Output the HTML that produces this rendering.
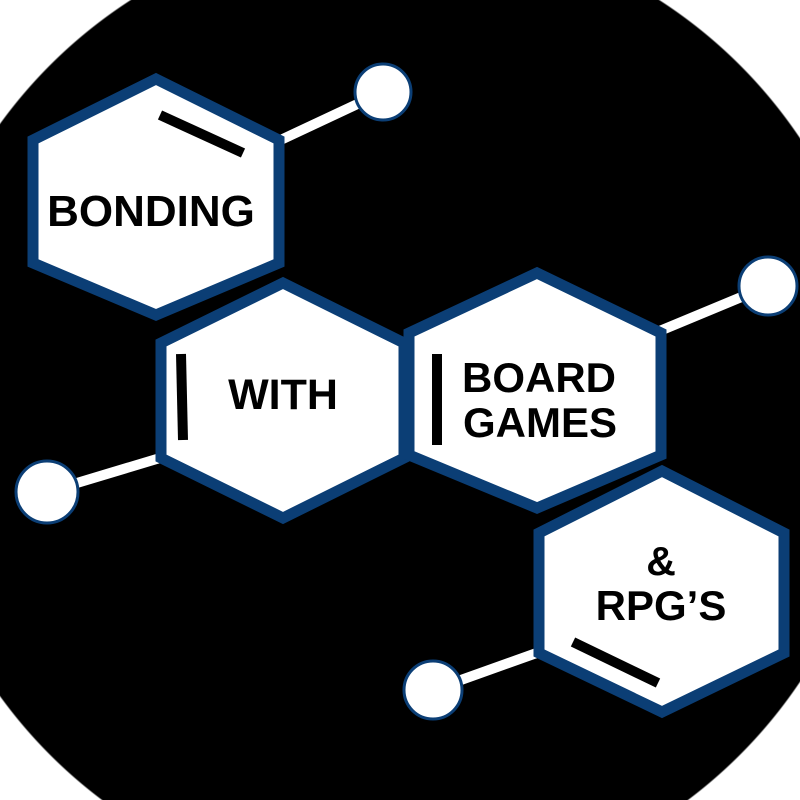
<!DOCTYPE html>
<html><head><style>
html,body{margin:0;padding:0;width:800px;height:800px;overflow:hidden;}
body{background:radial-gradient(circle 488px at 395px 410px,#000 487px,#fff 488.5px);}
svg{display:block;}
text{font-family:"Liberation Sans",sans-serif;font-weight:bold;fill:#000;}
</style></head><body>
<svg width="800" height="800" viewBox="0 0 800 800">
<g stroke="#fff" stroke-width="10">
<line x1="270" y1="145" x2="383" y2="92"/>
<line x1="650" y1="335" x2="768" y2="286"/>
<line x1="170" y1="455" x2="47" y2="492"/>
<line x1="545" y1="650" x2="433" y2="690"/>
</g>
<g fill="#fff" stroke="#0b3e75" stroke-width="3">
<circle cx="383" cy="92" r="28"/>
<circle cx="768" cy="286" r="29"/>
<circle cx="47" cy="492" r="31"/>
<circle cx="433" cy="690" r="29"/>
</g>
<g fill="#fff" stroke="#0b3e75" stroke-width="11" stroke-linejoin="miter">
<polygon points="156,79 279,140 279,263 156,315 33,263 33,140"/>
<polygon points="283,283 404,343 404,458 283,518 161,458 161,343"/>
<polygon points="537,273 661,333 661,455 537,508 409,455 409,333"/>
<polygon points="662,471 784,533 784,653 662,712 539,653 539,533"/>
</g>
<g stroke="#000" stroke-width="10">
<line x1="160" y1="115" x2="243" y2="153"/>
<line x1="181" y1="354" x2="183" y2="440"/>
<line x1="437" y1="354" x2="437" y2="445"/>
<line x1="573" y1="642" x2="658" y2="683"/>
</g>
<text x="151" y="226" font-size="44" text-anchor="middle">BONDING</text>
<text x="283" y="409" font-size="43" text-anchor="middle">WITH</text>
<text x="539" y="392" font-size="42" text-anchor="middle">BOARD</text>
<text x="540" y="437" font-size="42" text-anchor="middle">GAMES</text>
<text x="661" y="575" font-size="41" text-anchor="middle">&amp;</text>
<text x="661" y="620" font-size="42" text-anchor="middle">RPG’S</text>
</svg>
</body></html>
